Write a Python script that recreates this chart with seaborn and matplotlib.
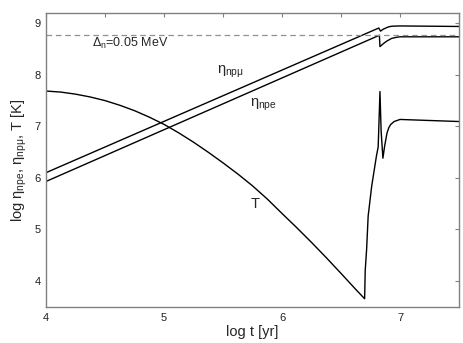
import matplotlib
matplotlib.use('Agg')
import matplotlib.pyplot as plt
import seaborn as sns
import pandas as pd

# curve values (log t [yr] vs log value)
t_T = [4.0, 4.125, 4.25, 4.375, 4.5, 4.625, 4.75, 4.875, 5.0, 5.125, 5.25,
       5.375, 5.5, 5.625, 5.75, 5.875, 6.0, 6.125, 6.25, 6.375, 6.5, 6.625,
       6.70, 6.705, 6.717, 6.73, 6.76, 6.80, 6.815, 6.83, 6.84, 6.855, 6.87,
       6.89, 6.905, 6.92, 6.95, 7.0, 7.25, 7.5]
logT = [7.68, 7.66, 7.62, 7.565, 7.495, 7.405, 7.30, 7.175, 7.035, 6.87, 6.69,
        6.495, 6.29, 6.075, 5.845, 5.59, 5.31, 5.035, 4.75, 4.455, 4.15, 3.84,
        3.66, 4.20, 4.62, 5.26, 5.84, 6.42, 6.60, 7.67, 6.90, 6.38, 6.62,
        6.87, 6.97, 7.03, 7.09, 7.13, 7.11, 7.09]

t_npmu = [4.0, 6.82, 6.835, 6.86, 6.90, 6.93, 7.0, 7.5]
eta_npmu = [6.10, 8.90, 8.84, 8.88, 8.92, 8.935, 8.94, 8.93]

t_npe = [4.0, 6.825, 6.83, 6.86, 6.89, 6.93, 6.97, 7.0, 7.5]
eta_npe = [5.93, 8.76, 8.54, 8.60, 8.65, 8.70, 8.72, 8.73, 8.73]

delta_level = 8.76

sns.set_style('white')
plt.rcParams['font.family'] = ['Liberation Sans', 'DejaVu Sans']
plt.rcParams['mathtext.fontset'] = 'custom'
plt.rcParams['mathtext.rm'] = 'Liberation Sans'
plt.rcParams['mathtext.it'] = 'Liberation Sans'

fig = plt.figure(figsize=(4.63, 3.43), dpi=100)
ax = fig.add_axes([0.0994, 0.105, 0.892, 0.857])

for x, y in [(t_T, logT), (t_npmu, eta_npmu), (t_npe, eta_npe)]:
    df = pd.DataFrame({'t': x, 'v': y})
    sns.lineplot(data=df, x='t', y='v', ax=ax, color='black', lw=1.0,
                 estimator=None, sort=False)

ax.axhline(delta_level, color='#909090', ls=(0, (4.5, 3)), lw=0.9)

ax.set_xlim(4, 7.5)
ax.set_ylim(3.5, 9.19)
xt = [4, 4.5, 5, 5.5, 6, 6.5, 7, 7.5]
ax.set_xticks(xt)
ax.set_xticklabels([str(int(v)) if v == int(v) else '' for v in xt])
ax.set_yticks([4, 5, 6, 7, 8, 9])
ax.tick_params(direction='in', top=True, right=True, length=3,
               color='#808080', labelcolor='#222222', labelsize=8, pad=4)
for s in ax.spines.values():
    s.set_color('#808080')
    s.set_linewidth(1.0)

ax.set_xlabel('log t [yr]', fontsize=10.5, labelpad=2)
ax.set_ylabel(r'log $\mathrm{\eta}_{\rm npe}$, $\mathrm{\eta}_{\rm np\mu}$, T [K]',
              fontsize=10.5, labelpad=4)

ax.text(4.39, 8.6, r'$\Delta_{\rm n}$=0.05 MeV', fontsize=9, va='center', ha='left')
ax.text(5.45, 8.05, r'$\mathrm{\eta}_{\rm np\mu}$', fontsize=10.5, va='center', ha='left')
ax.text(5.73, 7.42, r'$\mathrm{\eta}_{\rm npe}$', fontsize=10.5, va='center', ha='left')
ax.text(5.73, 5.49, 'T', fontsize=10.5, va='center', ha='left')

fig.savefig('out.png', dpi=100)
